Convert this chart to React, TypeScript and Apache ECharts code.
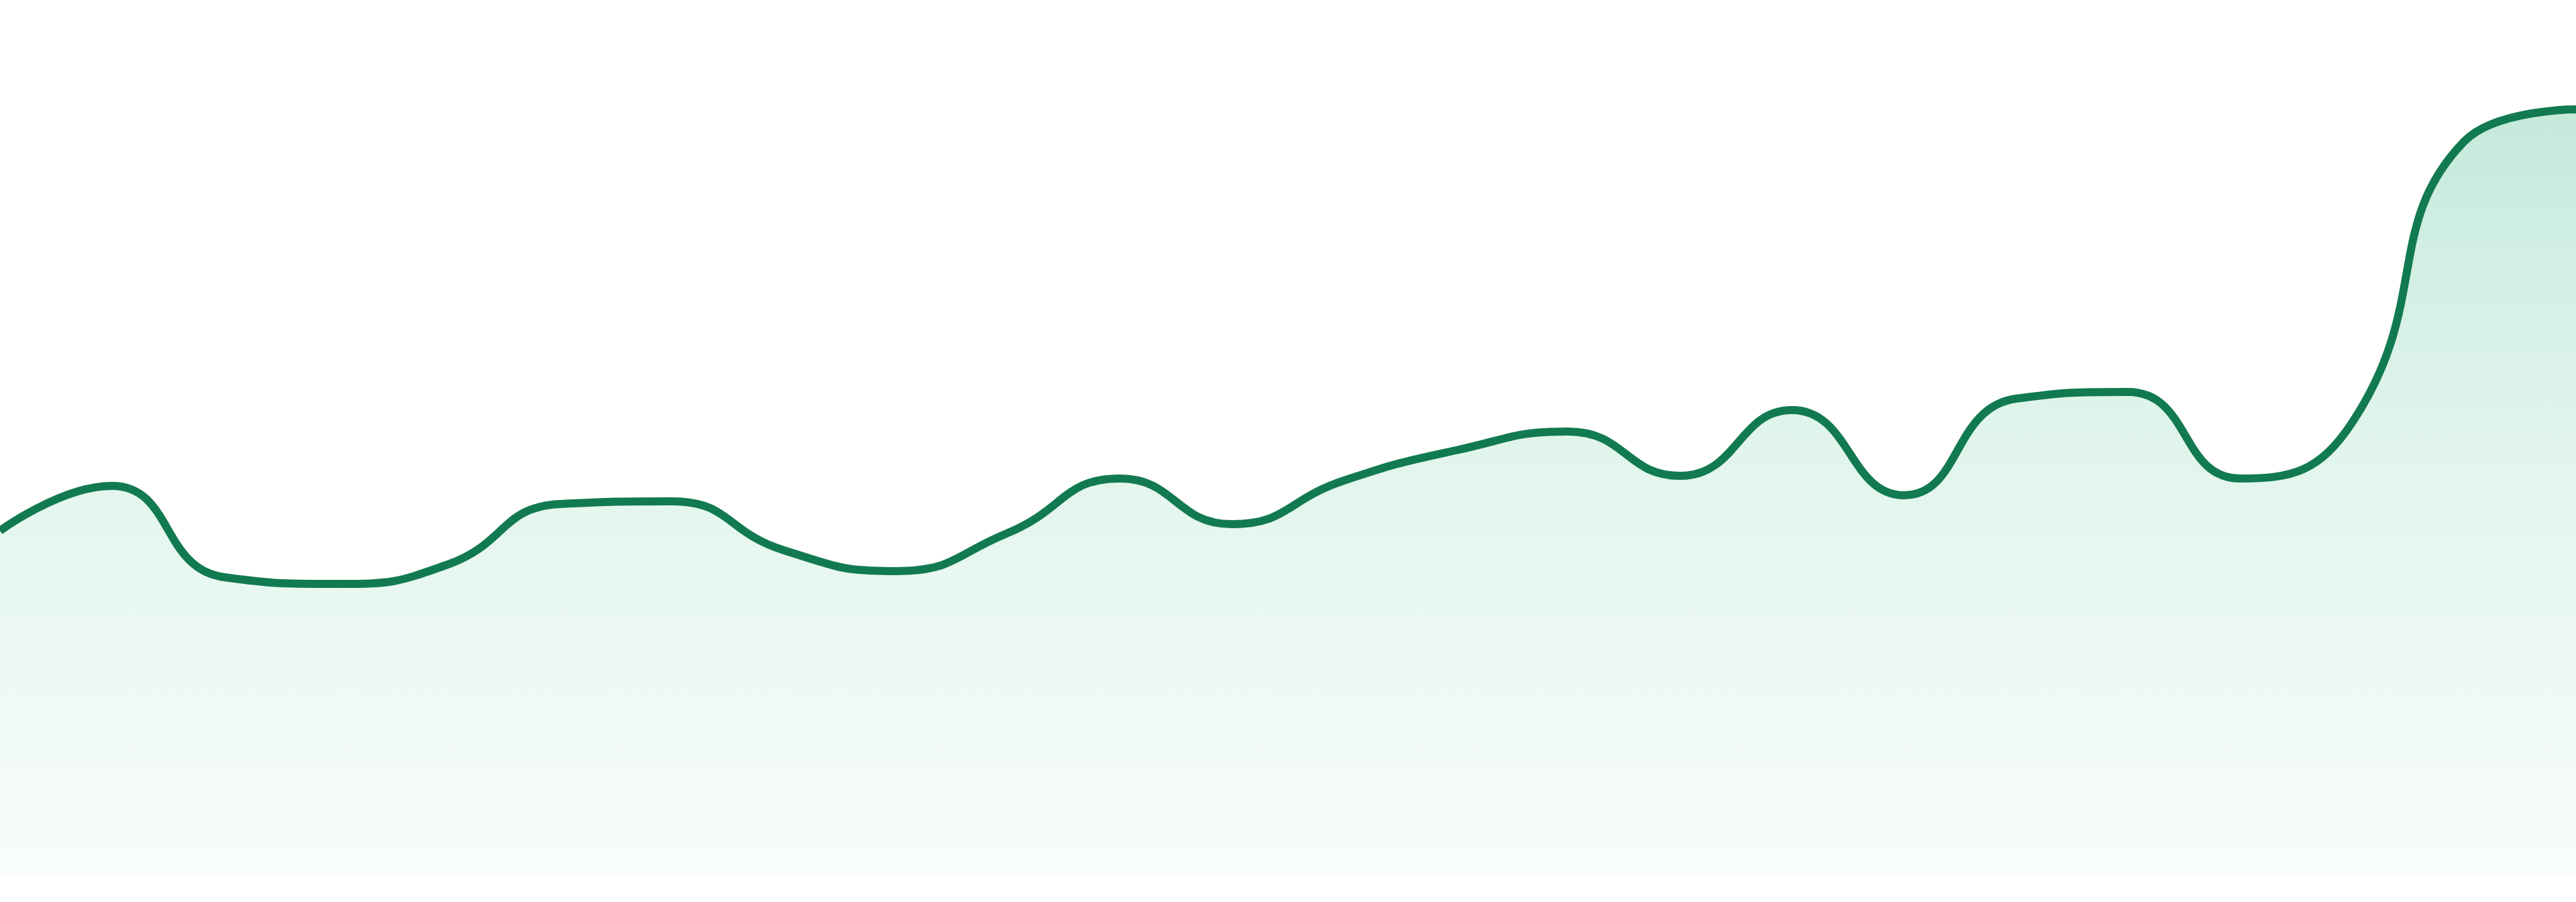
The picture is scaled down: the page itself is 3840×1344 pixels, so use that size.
import * as echarts from "echarts";
import { useEffect, useRef } from "react";

// 24 evenly spaced samples, left to right
const periods = [
  "P01", "P02", "P03", "P04", "P05", "P06", "P07", "P08",
  "P09", "P10", "P11", "P12", "P13", "P14", "P15", "P16",
  "P17", "P18", "P19", "P20", "P21", "P22", "P23", "P24",
];

const values = [
  514, 581, 445, 435, 464, 554, 558, 485,
  454, 511, 592, 524, 589, 634, 662, 596,
  694, 567, 711, 721, 592, 675, 1094, 1142,
];

const Y_MAX = 1305;
const LINE_COLOR = "#127a50";
const W = 3840;
const H = 1344;

function getOption() {
  return {
    animation: false,
    grid: { left: 0, right: 0, top: 0, bottom: H - Y_MAX },
    xAxis: {
      type: "category",
      data: periods,
      boundaryGap: false,
      show: false,
    },
    yAxis: {
      type: "value",
      min: 0,
      max: Y_MAX,
      show: false,
    },
    series: [
      {
        type: "line",
        data: values,
        smooth: 0.5,
        symbol: "none",
        lineStyle: { color: LINE_COLOR, width: 12 },
        areaStyle: {
          color: new echarts.graphic.LinearGradient(0, 0, 0, 1, [
            { offset: 0, color: "#abdfca" },
            { offset: 0.13, color: "#b8e6d5" },
            { offset: 0.42, color: "#d3f0e4" },
            { offset: 0.69, color: "#e3f5ee" },
            { offset: 1, color: "#f6fbf9" },
          ]),
        },
      },
    ],
  };
}

export default function App() {
  const ref = useRef<HTMLDivElement>(null);

  useEffect(() => {
    if (!ref.current) return;
    const chart = echarts.init(ref.current, undefined, { renderer: "svg" });
    chart.setOption(getOption());
    return () => chart.dispose();
  }, []);

  return (
    <div
      ref={ref}
      style={{
        position: "absolute",
        left: 0,
        top: 0,
        width: W,
        height: H,
        background: "#ffffff",
      }}
    />
  );
}
